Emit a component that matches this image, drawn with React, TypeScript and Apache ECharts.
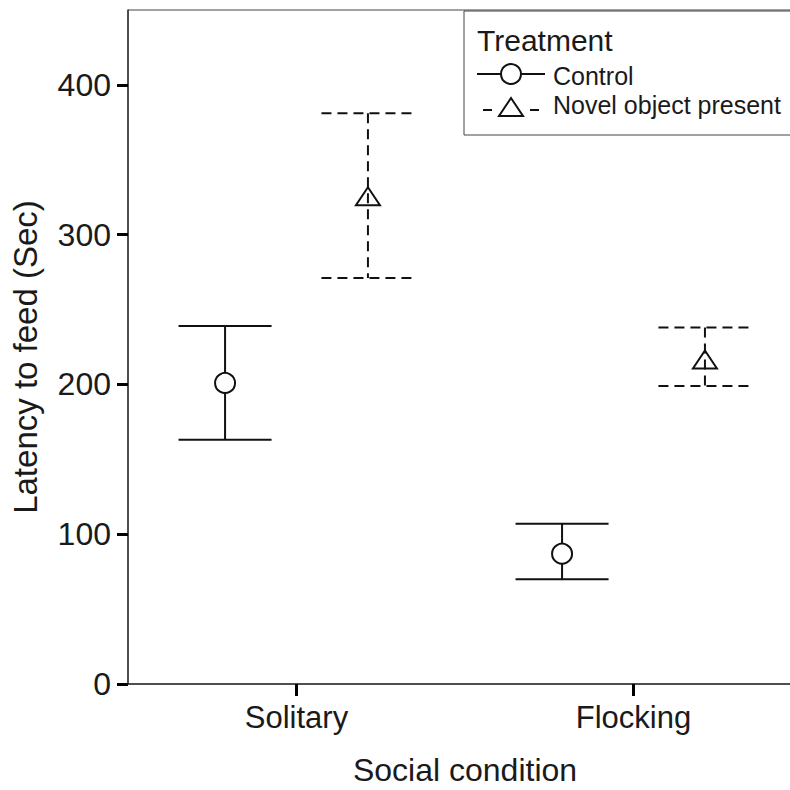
import React, { useEffect, useRef } from "react";
import * as echarts from "echarts";

const categories = ["Solitary", "Flocking"];
const seriesNames = ["Control", "Novel object present"];
const controlMean = [201, 87];
const controlLow = [163, 70];
const controlHigh = [239, 107];
const novelMean = [325, 216];
const novelLow = [271, 199];
const novelHigh = [381, 238];
const yTicks = [0, 100, 200, 300, 400];

const FONT = "Liberation Sans, Arial, sans-serif";
const INK = "#111";

function buildData(mean: number[], low: number[], high: number[]) {
  return mean.map((m, i) => [i, m, low[i], high[i]]);
}

function makeRenderItem(offsetFrac: number, marker: "circle" | "triangle", dashed: boolean) {
  return (params: any, api: any) => {
    const cat = api.value(0);
    const mean = api.value(1);
    const lo = api.value(2);
    const hi = api.value(3);
    const band = api.size([1, 0])[0];
    const pm = api.coord([cat, mean]);
    const pl = api.coord([cat, lo]);
    const ph = api.coord([cat, hi]);
    const x = pm[0] + offsetFrac * band;
    const cw = 0.138 * band;
    const lineStyle: any = { stroke: INK, lineWidth: 2, fill: null };
    if (dashed) lineStyle.lineDash = [10, 6];
    const children: any[] = [
      { type: "line", shape: { x1: x, y1: ph[1], x2: x, y2: pl[1] }, style: lineStyle },
      { type: "line", shape: { x1: x - cw, y1: ph[1], x2: x + cw, y2: ph[1] }, style: lineStyle },
      { type: "line", shape: { x1: x - cw, y1: pl[1], x2: x + cw, y2: pl[1] }, style: lineStyle },
    ];
    if (marker === "circle") {
      children.push({
        type: "circle",
        shape: { cx: x, cy: pm[1], r: 10 },
        style: { fill: "#fff", stroke: INK, lineWidth: 2 },
      });
    } else {
      children.push({
        type: "polygon",
        shape: { points: [[x, pm[1] - 10], [x + 12, pm[1] + 8], [x - 12, pm[1] + 8]] },
        style: { fill: "rgba(255,255,255,0)", stroke: INK, lineWidth: 2 },
      });
    }
    return { type: "group", children };
  };
}

export default function App() {
  const ref = useRef<HTMLDivElement>(null);
  useEffect(() => {
    if (!ref.current) return;
    const chart = echarts.init(ref.current, null, { renderer: "svg" });
    const option: any = {
      animation: false,
      backgroundColor: "#fff",
      textStyle: { fontFamily: FONT },
      grid: {
        left: 128,
        top: 10,
        right: -12,
        bottom: 106,
        containLabel: false,
        outerBoundsMode: "none",
        show: true,
        borderColor: "#444",
        borderWidth: 1,
        backgroundColor: "transparent",
      },
      xAxis: {
        type: "category",
        data: categories,
        boundaryGap: true,
        name: "Social condition",
        nameLocation: "middle",
        nameGap: 70,
        nameTextStyle: { fontSize: 32, color: "#1a1a1a", fontFamily: FONT },
        axisLine: { show: true, lineStyle: { color: "#333", width: 1.5 } },
        axisTick: { show: true, alignWithLabel: true, length: 12, lineStyle: { color: "#000", width: 3 } },
        axisLabel: { fontSize: 31, color: "#1a1a1a", margin: 18, fontFamily: FONT },
        splitLine: { show: false },
      },
      yAxis: {
        type: "value",
        min: 0,
        max: 450,
        interval: 100,
        name: "Latency to feed (Sec)",
        nameLocation: "middle",
        nameGap: 86,
        nameTextStyle: { fontSize: 33, color: "#1a1a1a", fontFamily: FONT, padding: [0, 20, 0, 0] },
        axisLine: { show: true, lineStyle: { color: "#333", width: 1.5 } },
        axisTick: { show: true, length: 11, lineStyle: { color: "#000", width: 3 }, customValues: yTicks },
        axisLabel: { fontSize: 32, color: "#1a1a1a", margin: 17, fontFamily: FONT, customValues: yTicks },
        splitLine: { show: false },
      },
      series: [
        {
          name: seriesNames[0],
          type: "custom",
          renderItem: makeRenderItem(-0.212, "circle", false),
          data: buildData(controlMean, controlLow, controlHigh),
          encode: { x: 0, y: [1, 2, 3] },
          z: 3,
        },
        {
          name: seriesNames[1],
          type: "custom",
          renderItem: makeRenderItem(0.212, "triangle", true),
          data: buildData(novelMean, novelLow, novelHigh),
          encode: { x: 0, y: [1, 2, 3] },
          z: 3,
        },
      ],
      graphic: [
        {
          type: "group",
          z: 10,
          children: [
            {
              type: "rect",
              shape: { x: 464, y: 11, width: 340, height: 124 },
              style: { fill: "#fff", stroke: "#444", lineWidth: 1 },
            },
            {
              type: "text",
              x: 477,
              y: 40,
              style: { text: "Treatment", fontSize: 30, fontFamily: FONT, fill: "#1a1a1a", verticalAlign: "middle" },
            },
            { type: "line", shape: { x1: 477, y1: 74, x2: 545, y2: 74 }, style: { stroke: INK, lineWidth: 2 } },
            { type: "circle", shape: { cx: 511, cy: 74, r: 10 }, style: { fill: "#fff", stroke: INK, lineWidth: 2 } },
            {
              type: "text",
              x: 553,
              y: 76,
              style: { text: seriesNames[0], fontSize: 25, fontFamily: FONT, fill: "#1a1a1a", verticalAlign: "middle" },
            },
            { type: "line", shape: { x1: 483, y1: 110, x2: 492, y2: 110 }, style: { stroke: INK, lineWidth: 2 } },
            { type: "line", shape: { x1: 530, y1: 110, x2: 539, y2: 110 }, style: { stroke: INK, lineWidth: 2 } },
            {
              type: "polygon",
              shape: { points: [[511, 98], [523, 116], [499, 116]] },
              style: { fill: "#fff", stroke: INK, lineWidth: 2 },
            },
            {
              type: "text",
              x: 553,
              y: 105,
              style: { text: seriesNames[1], fontSize: 25, fontFamily: FONT, fill: "#1a1a1a", verticalAlign: "middle" },
            },
          ],
        },
      ],
    };
    chart.setOption(option);
    return () => chart.dispose();
  }, []);
  return <div ref={ref} style={{ width: 790, height: 790, position: "absolute", left: 0, top: 0 }} />;
}
